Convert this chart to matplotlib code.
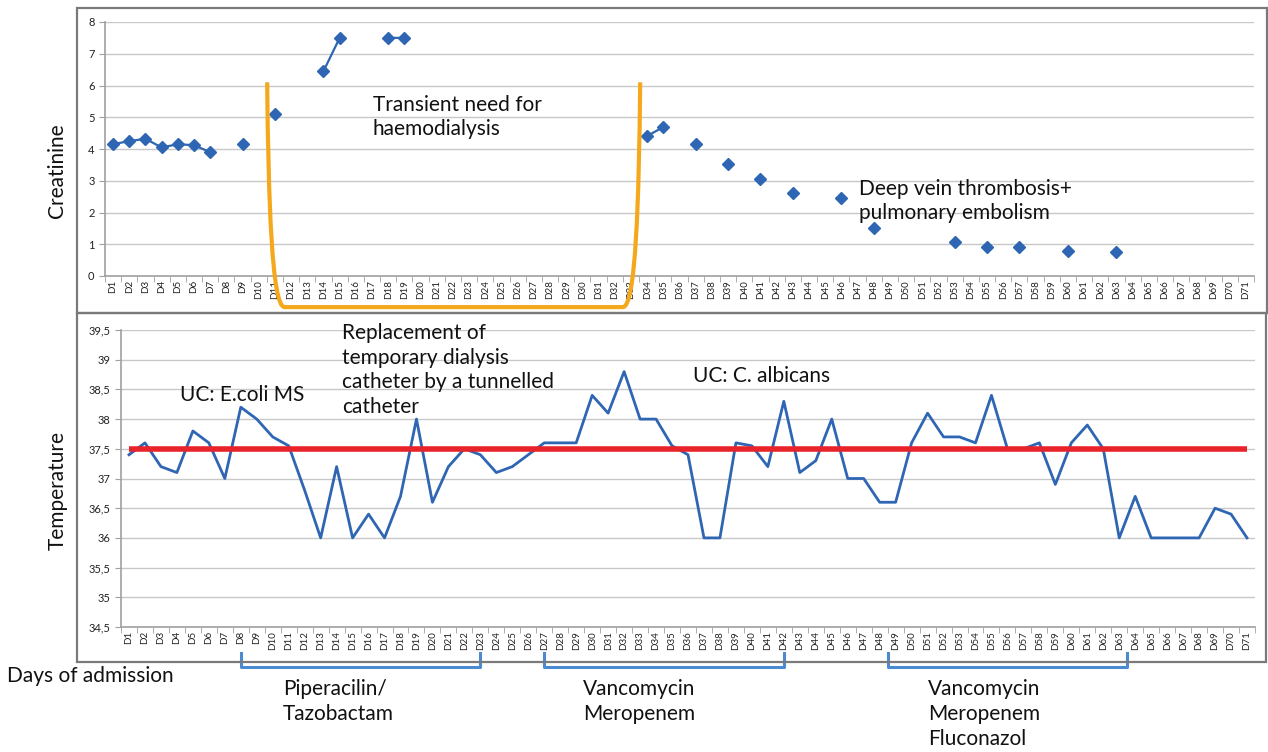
import numpy as np
import matplotlib
matplotlib.use("Agg")
import matplotlib.pyplot as plt
from matplotlib.patches import Rectangle, PathPatch
from matplotlib.path import Path
from matplotlib.ticker import FixedLocator, FuncFormatter
import matplotlib.transforms as mtransforms

plt.rcParams['font.family'] = ['Lato', 'DejaVu Sans']

# data
days = [f"D{i}" for i in range(1, 72)]

creat_days = [1, 2, 3, 4, 5, 6, 7, 9, 11, 14, 15, 18, 19,
              34, 35, 37, 39, 41, 43, 46, 48, 53, 55, 57, 60, 63]
creat_values = [4.15, 4.25, 4.32, 4.05, 4.15, 4.12, 3.9, 4.15, 5.1, 6.45, 7.5, 7.5, 7.5,
                4.41, 4.69, 4.16, 3.54, 3.07, 2.6, 2.45, 1.51, 1.08, 0.92, 0.92, 0.8, 0.76]

temperature = [37.4, 37.6, 37.2, 37.1, 37.8, 37.6, 37.0, 38.2, 38.0, 37.7,
               37.55, 36.8, 36.0, 37.2, 36.0, 36.4, 36.0, 36.7, 38.0, 36.6,
               37.2, 37.5, 37.4, 37.1, 37.2, 37.4, 37.6, 37.6, 37.6, 38.4,
               38.1, 38.8, 38.0, 38.0, 37.55, 37.4, 36.0, 36.0, 37.6, 37.55,
               37.2, 38.3, 37.1, 37.3, 38.0, 37.0, 37.0, 36.6, 36.6, 37.6,
               38.1, 37.7, 37.7, 37.6, 38.4, 37.5, 37.5, 37.6, 36.9, 37.6,
               37.9, 37.5, 36.0, 36.7, 36.0, 36.0, 36.0, 36.0, 36.5, 36.4,
               36.0]
fever_threshold = 37.5

therapy_labels = ["Piperacilin/\nTazobactam", "Vancomycin\nMeropenem",
                  "Vancomycin\nMeropenem\nFluconazol"]
therapy_start = [8, 27, 48.5]
therapy_end = [23, 42, 63.5]
therapy_text_x = [283, 583, 928]

W, H = 1268, 752


def fx(px):
    return px / W


def fy(py):
    return 1 - py / H


fig = plt.figure(figsize=(W / 100, H / 100), dpi=100)

BLUE = '#2f66b3'
GRID = '#c8c8c8'
AXC = '#a0a0a0'
TXT = '#111111'
FS = 15

x = np.arange(len(days))
creat = np.full(len(days), np.nan)
creat[np.array(creat_days) - 1] = creat_values


def style_axis(ax):
    for s in ['top', 'right']:
        ax.spines[s].set_visible(False)
    for s in ['left', 'bottom']:
        ax.spines[s].set_color(AXC)
        ax.spines[s].set_linewidth(1.2)
    ax.set_xlim(-0.5, len(days) - 0.5)
    ax.set_xticks(x)
    ax.set_xticklabels(days, rotation=90, fontsize=7, color='#222222')
    ax.xaxis.set_minor_locator(FixedLocator(np.arange(-0.5, len(days), 1)))
    ax.tick_params(axis='x', which='major', length=0, pad=3)
    ax.tick_params(axis='x', which='minor', length=4, color=AXC, direction='out')
    ax.tick_params(axis='y', length=4, color=AXC, labelsize=8, labelcolor='#222222')
    ax.grid(axis='y', color=GRID, lw=1)
    ax.set_axisbelow(True)


# creatinine panel
ax1 = fig.add_axes([fx(105), fy(276), fx(1254) - fx(105), fy(22) - fy(276)])
style_axis(ax1)
ax1.set_ylim(0, 8)
ax1.set_yticks(range(0, 9))
ax1.plot(x, creat, color=BLUE, lw=1.6, marker='D', ms=6, mec=BLUE, mfc=BLUE)

# orange dialysis bracket (data coords of top axes)
verts = [(9.52, 6.1), (9.6, 2.4), (9.8, -0.98), (10.6, -0.98),
         (31.5, -0.98),
         (32.3, -0.98), (32.5, 2.4), (32.57, 6.1)]
codes = [Path.MOVETO, Path.CURVE4, Path.CURVE4, Path.CURVE4,
         Path.LINETO,
         Path.CURVE4, Path.CURVE4, Path.CURVE4]
ax1.add_patch(PathPatch(Path(verts, codes), fill=False, ec='#f6a81c', lw=3,
                        clip_on=False, zorder=5))

# temperature panel
ax2 = fig.add_axes([fx(121), fy(627), fx(1255) - fx(121), fy(330) - fy(627)])
style_axis(ax2)
ax2.set_ylim(34.5, 39.5)
ax2.set_yticks(np.arange(34.5, 39.51, 0.5))
ax2.yaxis.set_major_formatter(FuncFormatter(lambda v, p: f"{v:g}".replace('.', ',')))
ax2.plot(x, temperature, color=BLUE, lw=2)
ax2.plot([x[0], x[-1]], [fever_threshold, fever_threshold], color='#e8232a',
         lw=4, solid_capstyle='butt', zorder=4)

# antibiotic brackets under the axis
trans = mtransforms.blended_transform_factory(ax2.transData, ax2.transAxes)
for lab, s, e, tx in zip(therapy_labels, therapy_start, therapy_end, therapy_text_x):
    ax2.plot([s - 1, s - 1, e - 1, e - 1], [-0.088, -0.135, -0.135, -0.088],
             transform=trans, color='#4a8ad0', lw=2.2, clip_on=False)
    fig.text(fx(tx), fy(679), lab, fontsize=FS, va='top', ha='left',
             linespacing=1.3, color=TXT)

# frames
for top, bot, right in [(8, 313, 1267), (313, 662, 1266)]:
    fig.add_artist(Rectangle((fx(77), fy(bot)), fx(right) - fx(77), fy(top) - fy(bot),
                             transform=fig.transFigure, fill=False,
                             ec='#7a7a7a', lw=1.6))

# labels and notes
fig.text(fx(57), fy(171), "Creatinine", rotation=90, fontsize=15,
         ha='center', va='center', color=TXT)
fig.text(fx(58), fy(491), "Temperature", rotation=90, fontsize=15,
         ha='center', va='center', color=TXT)
fig.text(fx(7), fy(676), "Days of admission", fontsize=FS, ha='left', va='center',
         color=TXT)

fig.text(fx(373), fy(117), "Transient need for\nhaemodialysis", fontsize=FS,
         ha='left', va='center', linespacing=1.3, color=TXT)
fig.text(fx(859), fy(201), "Deep vein thrombosis+\npulmonary embolism", fontsize=FS,
         ha='left', va='center', linespacing=1.3, color=TXT)
fig.text(fx(180), fy(395), "UC: E.coli MS", fontsize=FS, ha='left', va='center',
         color=TXT)
fig.text(fx(342), fy(370), "Replacement of\ntemporary dialysis\ncatheter by a tunnelled\ncatheter",
         fontsize=FS, ha='left', va='center', linespacing=1.3, color=TXT)
fig.text(fx(693), fy(376), "UC: C. albicans", fontsize=FS, ha='left', va='center',
         color=TXT)

fig.savefig("out.png", dpi=100)
